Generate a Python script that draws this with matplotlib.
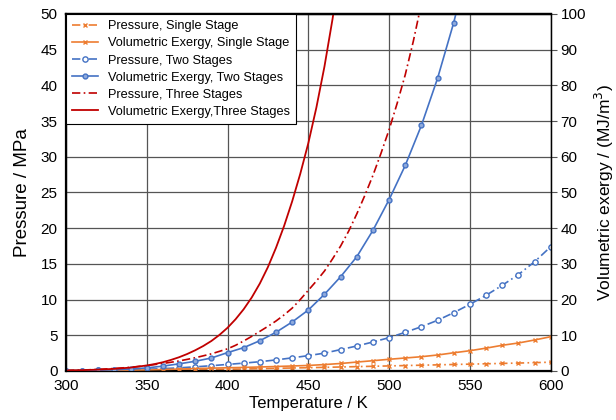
import matplotlib
matplotlib.use("Agg")
import matplotlib.pyplot as plt

plt.rcParams["font.family"] = ["Liberation Sans", "DejaVu Sans"]

# temperatures, every 10 K
temperature = list(range(300, 610, 10))

# pressures in MPa (left axis)
pressure_single = [0.01, 0.02, 0.03, 0.04, 0.06, 0.08, 0.10, 0.13, 0.16, 0.20,
                   0.24, 0.28, 0.32, 0.37, 0.42, 0.46, 0.51, 0.56, 0.61, 0.66,
                   0.71, 0.76, 0.81, 0.86, 0.91, 0.96, 1.01, 1.06, 1.11, 1.17,
                   1.23]
pressure_two = [0.03, 0.05, 0.08, 0.12, 0.17, 0.24, 0.33, 0.44, 0.58, 0.74,
                0.92, 1.10, 1.30, 1.55, 1.84, 2.15, 2.50, 3.00, 3.50, 4.06,
                4.67, 5.42, 6.20, 7.10, 8.17, 9.34, 10.6, 12.0, 13.5, 15.3,
                17.4]
temp_three_p = [300, 310, 320, 330, 340, 350, 360, 370, 380, 390,
                400, 405, 410, 415, 420, 425, 430, 435, 440, 445,
                450, 455, 460, 465, 470, 475, 480, 485, 490, 495,
                500, 505, 510, 515, 520]
pressure_three = [0.07, 0.13, 0.22, 0.35, 0.52, 0.75, 1.05, 1.40, 1.85, 2.40,
                  3.10, 3.60, 4.20, 4.85, 5.55, 6.25, 7.00, 7.85, 8.80, 10.0,
                  11.3, 12.6, 14.0, 15.7, 17.5, 19.6, 22.0, 24.6, 27.4, 30.5,
                  33.8, 37.5, 41.5, 46.2, 51.5]

# volumetric exergy in MJ/m3 (right axis)
exergy_single = [0.05, 0.08, 0.12, 0.17, 0.24, 0.32, 0.42, 0.54, 0.68, 0.80,
                 0.90, 1.00, 1.12, 1.25, 1.40, 1.55, 1.80, 2.10, 2.50, 2.88,
                 3.28, 3.64, 4.00, 4.48, 5.10, 5.68, 6.40, 7.20, 7.84, 8.68,
                 9.60]
temp_two_e = list(range(300, 560, 10))
exergy_two = [0.06, 0.12, 0.20, 0.34, 0.54, 0.86, 1.36, 2.00, 2.72, 3.64,
              5.14, 6.54, 8.48, 10.84, 13.72, 17.08, 21.48, 26.4, 32.0, 39.4,
              48.0, 57.6, 68.8, 82.0, 97.6, 116.0]
temp_three_e = [300, 310, 320, 330, 340, 350, 355, 360, 365, 370,
                375, 380, 385, 390, 395, 400, 405, 410, 415, 420,
                425, 430, 435, 440, 445, 450, 455, 460, 465, 470]
exergy_three = [0.15, 0.24, 0.38, 0.60, 0.95, 1.55, 1.95, 2.45, 3.10, 3.85,
                4.75, 5.80, 7.00, 8.40, 10.1, 12.1, 14.5, 17.3, 20.6, 24.5,
                29.1, 34.5, 40.6, 47.5, 55.2, 63.8, 73.8, 85.3, 98.6, 114.0]

ORANGE = "#ED7D31"
BLUE = "#4472C4"
RED = "#C00000"
DASHDOT = (0, (5, 2, 1, 2))

fig = plt.figure(figsize=(6.16, 4.2), dpi=100)
ax = fig.add_axes([0.107, 0.1167, 0.787, 0.85])
ax2 = ax.twinx()

h1, = ax.plot(temperature, pressure_single, color=ORANGE, lw=1.2, ls=DASHDOT,
              marker="x", ms=3.5, mew=1.0, label="Pressure, Single Stage")
h2, = ax2.plot(temperature, exergy_single, color=ORANGE, lw=1.2,
               marker="x", ms=3.5, mew=1.0, label="Volumetric Exergy, Single Stage")
h3, = ax.plot(temperature, pressure_two, color=BLUE, lw=1.2, ls=DASHDOT,
              marker="o", ms=3.8, mfc="white", mew=1.0,
              label="Pressure, Two Stages")
h4, = ax2.plot(temp_two_e, exergy_two, color=BLUE, lw=1.2,
               marker="o", ms=3.5, mfc="#8FAADC", mew=1.0,
               label="Volumetric Exergy, Two Stages")
h5, = ax.plot(temp_three_p, pressure_three, color=RED, lw=1.2, ls=DASHDOT,
              label="Pressure, Three Stages")
h6, = ax2.plot(temp_three_e, exergy_three, color=RED, lw=1.3,
               label="Volumetric Exergy,Three Stages")

ax.set_xlim(300, 600)
ax.set_ylim(0, 50)
ax2.set_ylim(0, 100)
ax.set_xticks(range(300, 601, 50))
ax.set_yticks(range(0, 51, 5))
ax2.set_yticks(range(0, 101, 10))

ax.grid(True, color="#555555", lw=0.9)
ax.set_axisbelow(True)

ax.tick_params(axis="both", length=0, labelsize=11, pad=6)
ax.tick_params(axis="x", pad=6)
ax2.tick_params(axis="y", direction="out", length=4, width=0.8,
                color="#555555", labelsize=11, pad=3)

for side in ["left", "bottom", "top"]:
    ax.spines[side].set_linewidth(1.6)
ax2.spines["right"].set_linewidth(1.0)
ax2.spines["top"].set_linewidth(1.6)

ax.set_xlabel("Temperature / K", fontsize=12, labelpad=2)
ax.set_ylabel("Pressure / MPa", fontsize=13.5, labelpad=7)
ax2.set_ylabel("Volumetric exergy / (MJ/m$^3$)", fontsize=12.5, labelpad=5)

leg = ax2.legend(handles=[h1, h2, h3, h4, h5, h6], loc="upper left",
                 bbox_to_anchor=(0, 1), borderaxespad=0, fontsize=9.2,
                 frameon=True, fancybox=False, edgecolor="black",
                 framealpha=1, handlelength=2.0, handletextpad=0.8,
                 labelspacing=0.4, borderpad=0.5)
leg.get_frame().set_linewidth(0.8)

fig.savefig("out.png", dpi=100)
